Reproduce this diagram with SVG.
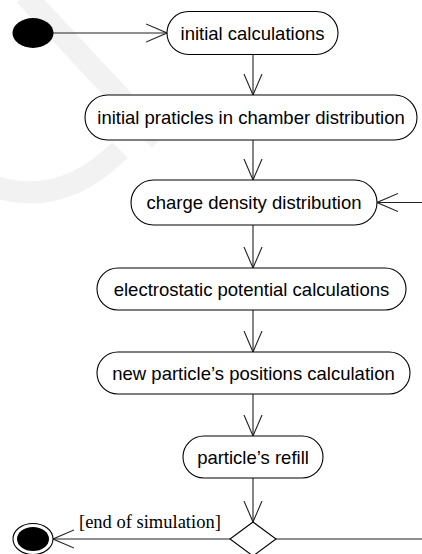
<svg xmlns="http://www.w3.org/2000/svg" width="422" height="554" viewBox="0 0 422 554">
<style>
.node{fill:#fff;stroke:#000;stroke-width:1.1}
.lbl{font-family:"Liberation Sans",Arial,sans-serif;font-size:18.5px;fill:#000;text-anchor:middle}
.guard{font-family:"Liberation Serif","Times New Roman",serif;font-size:18.5px;fill:#000}
.edge{fill:none;stroke:#222;stroke-width:1.1}
.wm{fill:none;stroke:#f2f2f2;stroke-width:22}
</style>
<defs>
<marker id="arr" viewBox="0 0 22 20" refX="21" refY="10" markerWidth="22" markerHeight="20" markerUnits="userSpaceOnUse" orient="auto">
<path d="M0,1 L21,10 L0,19" fill="none" stroke="#222" stroke-width="1.1"/>
</marker>
</defs>
<rect width="422" height="554" fill="#fff"/>
<g id="watermark">
<path class="wm" d="M25,-5 L160,140"/>
<path class="wm" d="M-10,185 Q60,210 120,150"/>
</g>
<g id="connectors">
<path class="edge" d="M53,33 L167,33" marker-end="url(#arr)"/>
<path class="edge" d="M253,54 L253,95" marker-end="url(#arr)"/>
<path class="edge" d="M253,140 L253,180" marker-end="url(#arr)"/>
<path class="edge" d="M422,202.5 L377,202.5" marker-end="url(#arr)"/>
<path class="edge" d="M253,225 L253,268" marker-end="url(#arr)"/>
<path class="edge" d="M253,310 L253,352" marker-end="url(#arr)"/>
<path class="edge" d="M253,394 L253,436" marker-end="url(#arr)"/>
<path class="edge" d="M253,478 L253,522" marker-end="url(#arr)"/>
<path class="edge" d="M230,539 L53,539" marker-end="url(#arr)"/>
<path class="edge" d="M276,539 L422,539"/>
<text class="guard" x="79" y="528">[end of simulation]</text>
</g>
<g id="start">
<ellipse cx="33" cy="33" rx="20.5" ry="15" fill="#000"/>
</g>
<g id="n1">
<rect class="node" x="167" y="11.5" width="171" height="43" rx="21.5" ry="21.5"/>
<text class="lbl" x="252.5" y="39.5">initial calculations</text>
</g>
<g id="n2">
<rect class="node" x="85" y="95" width="332" height="45" rx="22.5" ry="22.5"/>
<text class="lbl" x="251" y="124">initial praticles in chamber distribution</text>
</g>
<g id="n3">
<rect class="node" x="131" y="180" width="246" height="45" rx="22.5" ry="22.5"/>
<text class="lbl" x="254" y="209">charge density distribution</text>
</g>
<g id="n4">
<rect class="node" x="97" y="268" width="309" height="42" rx="21" ry="21"/>
<text class="lbl" x="251.5" y="295.5">electrostatic potential calculations</text>
</g>
<g id="n5">
<rect class="node" x="97" y="352" width="313" height="42" rx="21" ry="21"/>
<text class="lbl" x="253.5" y="379.5">new particle’s positions calculation</text>
</g>
<g id="n6">
<rect class="node" x="183" y="436" width="140" height="42" rx="21" ry="21"/>
<text class="lbl" x="253" y="463.5">particle’s refill</text>
</g>
<g id="decision">
<polygon class="node" points="253,522 276,539 253,556 230,539"/>
</g>
<g id="end">
<ellipse cx="33" cy="539" rx="20" ry="15.5" fill="#fff" stroke="#000" stroke-width="1.1"/>
<ellipse cx="33" cy="539" rx="16" ry="12" fill="#000"/>
</g>
</svg>
